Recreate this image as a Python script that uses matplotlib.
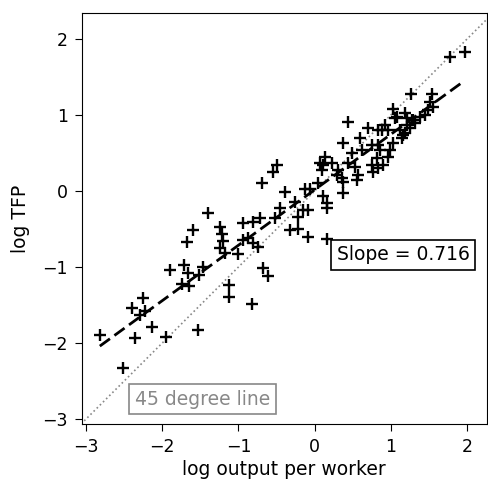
import numpy as np
import matplotlib
matplotlib.use("Agg")
import matplotlib.pyplot as plt

# log output per worker (x) and log TFP (y)
log_y_per_worker = [
    -2.82, -2.52, -2.40, -2.36, -2.25, -2.29, -2.23, -2.14, -1.95, -1.90,
    -1.72, -1.66, -1.74, -1.65, -1.52, -1.47, -1.53, -1.68, -1.60, -1.40,
    -1.24, -1.22, -1.20, -1.24, -1.18, -1.12, -1.12, -1.01, -0.94, -0.94,
    -0.88, -0.81, -0.74, -0.81, -0.72, -0.82, -0.68, -0.61, -0.69, -0.55,
    -0.50, -0.52, -0.46, -0.39, -0.32, -0.22, -0.26, -0.22, -0.15, -0.09,
    -0.09, -0.13, -0.06, 0.16, 0.04, 0.10, 0.07, 0.13, 0.11, 0.16,
    0.16, 0.23, 0.11, 0.31, 0.29, 0.36, 0.37, 0.37, 0.37, 0.44,
    0.44, 0.49, 0.53, 0.55, 0.57, 0.59, 0.62, 0.70, 0.75, 0.75,
    0.77, 0.82, 0.86, 0.83, 0.90, 0.96, 0.88, 0.92, 0.83, 0.99,
    1.03, 1.03, 1.05, 1.08, 0.96, 1.15, 1.18, 1.18, 1.21, 1.21,
    1.25, 1.26, 1.28, 1.32, 1.29, 1.16, 1.12, 1.38, 1.45, 1.49,
    1.51, 1.54, 1.55, 1.78, 1.97, 0.83,
]
log_tfp = [
    -1.89, -2.33, -1.54, -1.93, -1.41, -1.63, -1.58, -1.79, -1.92, -1.04,
    -0.97, -1.08, -1.22, -1.25, -1.11, -1.00, -1.83, -0.67, -0.51, -0.29,
    -0.47, -0.57, -0.66, -0.75, -0.82, -1.24, -1.39, -0.83, -0.42, -0.64,
    -0.62, -0.68, -0.74, -0.41, -0.36, -1.49, -1.01, -1.12, 0.11, 0.25,
    0.34, -0.36, -0.22, -0.01, -0.51, -0.50, -0.14, -0.34, -0.25, -0.25,
    -0.61, 0.03, 0.03, -0.63, 0.11, 0.28, 0.37, 0.45, -0.07, -0.16,
    -0.22, 0.37, 0.34, 0.28, 0.21, 0.17, 0.12, -0.03, 0.63, 0.91,
    0.37, 0.50, 0.32, 0.14, 0.21, 0.70, 0.54, 0.83, 0.61, 0.34,
    0.25, 0.43, 0.54, 0.30, 0.34, 0.45, 0.80, 0.87, 0.61, 0.54,
    0.63, 1.08, 0.96, 0.97, 0.80, 0.70, 0.76, 1.03, 0.96, 0.87,
    0.83, 1.28, 0.93, 0.89, 0.93, 0.74, 0.80, 0.97, 1.00, 1.07,
    1.17, 1.28, 1.11, 1.76, 1.83, 0.80,
]

x = np.array(log_y_per_worker)
y = np.array(log_tfp)

fig = plt.figure(figsize=(4.88, 4.8), dpi=100)
ax = fig.add_axes([0.1674, 0.1167, 0.8306, 0.8556])

XLIM = (-3.058, 2.262)
YLIM = (-3.066, 2.338)

# 45 degree line
lo = min(XLIM[0], YLIM[0])
hi = max(XLIM[1], YLIM[1])
ax.plot([lo, hi], [lo, hi], linestyle=":", color="#888888", lw=1.2)

# datos
ax.plot(x, y, "+", color="black", ms=8.5, mew=1.7)

# ajuste lineal
b, a = np.polyfit(x, y, 1)
xs = np.array([x.min(), x.max()])
ax.plot(xs, a + b * xs, "--", color="black", lw=2, dashes=(4.5, 2))

ax.set_xlim(*XLIM)
ax.set_ylim(*YLIM)
ax.set_xticks([-3, -2, -1, 0, 1, 2])
ax.set_yticks([-3, -2, -1, 0, 1, 2])
ax.tick_params(labelsize=12.5, length=5, pad=5)
ax.set_xlabel("log output per worker", fontsize=13.5, labelpad=3)
ax.set_ylabel("log TFP", fontsize=13.5, labelpad=9)

ax.text(1.16, -0.84, "Slope = 0.716", fontsize=13.5, ha="center", va="center",
        bbox=dict(boxstyle="square,pad=0.3", fc="white", ec="black", lw=1.2))
ax.text(-1.47, -2.74, "45 degree line", fontsize=13.5, color="#888888",
        ha="center", va="center",
        bbox=dict(boxstyle="square,pad=0.3", fc="white", ec="#888888", lw=1.2))

fig.savefig("out.png", dpi=100)
